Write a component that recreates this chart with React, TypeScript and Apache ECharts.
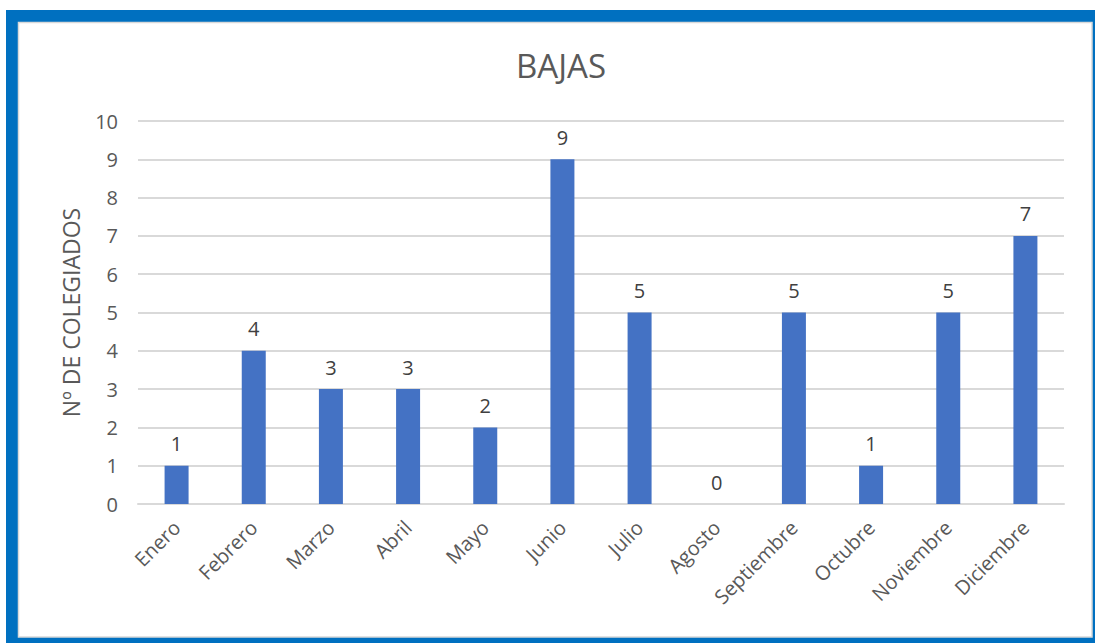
import React, { useEffect, useRef } from "react";
import * as echarts from "echarts";

const categories = ["Enero", "Febrero", "Marzo", "Abril", "Mayo", "Junio", "Julio", "Agosto", "Septiembre", "Octubre", "Noviembre", "Diciembre"];
const bajas = [1, 4, 3, 3, 2, 9, 5, 0, 5, 1, 5, 7];
const title = "BAJAS";
const yName = "Nº DE COLEGIADOS";

const FONT = "'Open Sans', 'Noto Sans', sans-serif";

export default function App() {
  const ref = useRef<HTMLDivElement>(null);
  useEffect(() => {
    if (!ref.current) return;
    const chart = echarts.init(ref.current, null, { renderer: "svg" });
    chart.setOption({
      animation: false,
      backgroundColor: "#ffffff",
      textStyle: { fontFamily: FONT },
      graphic: [
        { type: "rect", z: -10, silent: true, shape: { x: 6, y: 10, width: 1095, height: 640 }, style: { fill: "#0070C0" } },
        { type: "rect", z: -9, silent: true, shape: { x: 18.5, y: 22.5, width: 1073.5, height: 614.5 }, style: { fill: "#ffffff", stroke: "#d9d9d9", lineWidth: 1.5 } },
      ],
      title: {
        text: title,
        left: 556,
        textAlign: "center",
        top: 44,
        textStyle: { fontSize: 33, fontWeight: "normal", color: "#595959", fontFamily: FONT },
      },
      grid: { left: 138, right: 31, top: 121, bottom: 139 },
      xAxis: {
        type: "category",
        data: categories,
        axisLine: { lineStyle: { color: "#d9d9d9", width: 2 } },
        axisTick: { show: false },
        axisLabel: { rotate: 45, margin: 20, fontSize: 20, color: "#595959", interval: 0, fontFamily: FONT },
      },
      yAxis: {
        type: "value",
        min: 0,
        max: 10,
        interval: 1,
        name: yName,
        nameLocation: "middle",
        nameRotate: 90,
        nameGap: 56,
        nameTextStyle: { fontSize: 23, color: "#595959", fontFamily: FONT },
        axisLine: { show: false },
        axisTick: { show: false },
        axisLabel: { fontSize: 20, color: "#595959", margin: 20, fontFamily: FONT },
        splitLine: { lineStyle: { color: "#d9d9d9", width: 2 } },
      },
      series: [
        {
          type: "bar",
          data: bajas,
          barWidth: 24,
          itemStyle: { color: "#4472C4" },
          label: { show: true, position: "top", distance: 12, fontSize: 20, color: "#404040", fontFamily: FONT },
        },
      ],
    });
    return () => chart.dispose();
  }, []);
  return <div ref={ref} style={{ position: "absolute", left: 0, top: 0, width: 1095, height: 643 }} />;
}
